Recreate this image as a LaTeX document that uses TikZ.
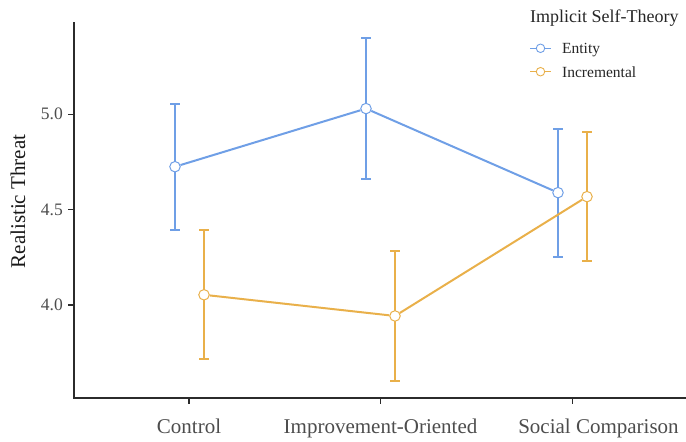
\documentclass[tikz,border=0pt]{standalone}
\usepackage{fontspec}
\setmainfont{Liberation Serif}
\definecolor{entc}{HTML}{6F9FE6}
\definecolor{incc}{HTML}{E9B04A}
\definecolor{ticktxt}{HTML}{4D4D4D}
\definecolor{axc}{HTML}{2B2B2B}
\begin{document}
\begin{tikzpicture}[x=1pt,y=-1pt,
  declare function={yv(\v)=114.3+(5-\v)*190.6;},
  axisline/.style={draw=axc,line width=1.2pt},
  ebar/.style={line width=2pt},
  trend/.style={line width=2pt},
  pt/.style={circle,draw=#1,fill=white,line width=1pt,minimum size=10.5pt,inner sep=0pt},
  keypt/.style={circle,draw=#1,fill=white,line width=0.9pt,minimum size=8.5pt,inner sep=0pt},
  xlab/.style={font=\fontsize{21}{24}\selectfont,text=ticktxt,anchor=base,inner sep=0pt},
  ylab/.style={font=\fontsize{17.5}{20}\selectfont,text=ticktxt,anchor=east,inner sep=0pt},
  legtxt/.style={font=\fontsize{15.5}{18}\selectfont,text=black!85,anchor=base west,inner sep=0pt}
]
\useasboundingbox (0,0) rectangle (686,442);
% axes
\coordinate (ytop) at (74,22);
\coordinate (orig) at (74,398);
\coordinate (xend) at (686,398);
\draw[axisline] (ytop) -- (orig) -- (xend);
% y ticks
\foreach \v/\n in {5.0/a,4.5/b,4.0/c}{
  \coordinate (yt\n) at (74,{yv(\v)});
  \draw[axisline] (yt\n) -- ++(-6,0);
  \node[ylab] (ytl\n) at (63,{yv(\v)}) {\v};
}
% x ticks
\foreach \x/\n in {189/a,380.5/b,572.5/c}{
  \coordinate (xt\n) at (\x,398);
  \draw[axisline] (xt\n) -- ++(0,6);
}
\node[xlab] (xtla) at (189,433) {Control};
\node[xlab] (xtlb) at (380.5,433) {Improvement-Oriented};
\node[xlab] (xtlc) at (598.5,433) {Social Comparison};
% axis title
\node[font=\fontsize{21}{24}\selectfont,text=black!90,rotate=90,anchor=base,inner sep=0pt] (ytitle) at (25,201.5) {Realistic Threat};
% error bar end points
\coordinate (et1) at (175,{yv(5.056)}); \coordinate (eb1) at (175,{yv(4.393)});
\coordinate (et2) at (366,{yv(5.402)}); \coordinate (eb2) at (366,{yv(4.659)});
\coordinate (et3) at (558,{yv(4.921)}); \coordinate (eb3) at (558,{yv(4.253)});
\coordinate (it1) at (204,{yv(4.391)}); \coordinate (ib1) at (204,{yv(3.718)});
\coordinate (it2) at (395,{yv(4.283)}); \coordinate (ib2) at (395,{yv(3.600)});
\coordinate (it3) at (587,{yv(4.906)}); \coordinate (ib3) at (587,{yv(4.230)});
% error bars
\foreach \k in {1,2,3}{
  \draw[ebar,draw=entc] (et\k) -- (eb\k);
  \draw[ebar,draw=entc] ([xshift=-5pt]et\k) -- ([xshift=5pt]et\k);
  \draw[ebar,draw=entc] ([xshift=-5pt]eb\k) -- ([xshift=5pt]eb\k);
  \draw[ebar,draw=incc] (it\k) -- (ib\k);
  \draw[ebar,draw=incc] ([xshift=-5pt]it\k) -- ([xshift=5pt]it\k);
  \draw[ebar,draw=incc] ([xshift=-5pt]ib\k) -- ([xshift=5pt]ib\k);
}
% points (nodes) and lines
\node[pt=entc] (e1) at (175,{yv(4.725)}) {};
\node[pt=entc] (e2) at (366,{yv(5.030)}) {};
\node[pt=entc] (e3) at (558,{yv(4.589)}) {};
\node[pt=incc] (i1) at (204,{yv(4.053)}) {};
\node[pt=incc] (i2) at (395,{yv(3.942)}) {};
\node[pt=incc] (i3) at (587,{yv(4.568)}) {};
\draw[trend,draw=entc] (e1) -- (e2) -- (e3);
\draw[trend,draw=incc] (i1) -- (i2) -- (i3);
% legend
\node[font=\fontsize{18}{21}\selectfont,text=black!85,anchor=base west,inner sep=0pt] (legtitle) at (530,22) {Implicit Self-Theory};
\coordinate (k1a) at (530,48.3); \coordinate (k1b) at (551,48.3);
\coordinate (k2a) at (530,71.7); \coordinate (k2b) at (551,71.7);
\draw[line width=1.5pt,draw=entc] (k1a) -- (k1b);
\draw[line width=1.5pt,draw=incc] (k2a) -- (k2b);
\node[keypt=entc] (k1) at (540.5,48.3) {};
\node[keypt=incc] (k2) at (540.5,71.7) {};
\node[legtxt] (l1) at (562,53.3) {Entity};
\node[legtxt] (l2) at (562,77.3) {Incremental};
\end{tikzpicture}
\end{document}
